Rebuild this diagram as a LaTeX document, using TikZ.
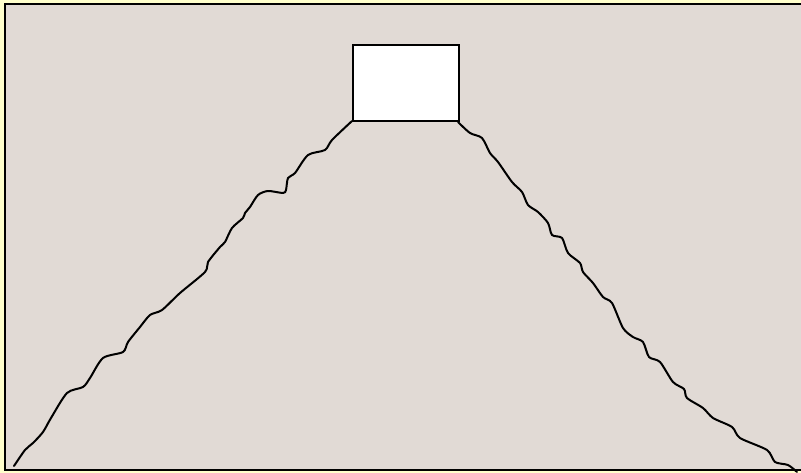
\documentclass[tikz,border=0pt]{standalone}
\begin{document}
\begin{tikzpicture}[x=1pt,y=-1pt,
  ridge/.style={line width=2pt,line join=round,line cap=round,smooth,tension=0.45},
  peak/.style={draw=black,line width=2pt,fill=white,minimum width=106pt,minimum height=76pt,inner sep=0pt,anchor=north west}]
\definecolor{frameyellow}{HTML}{FFFFCC}
\definecolor{bgbeige}{HTML}{E1DAD5}
\useasboundingbox (0,0) rectangle (801,473);
\fill[frameyellow] (0,0) rectangle (801,473);
\filldraw[fill=bgbeige,draw=black,line width=2pt] (5,4) rectangle (808,470);
\node[peak] (box) at (352,44) {};
\draw[ridge] plot coordinates {(14,466) (25,450) (33,443) (43,432) (51,418) (67,393) (83,387) (90,378) (103,358) (123,352) (128,342) (140,327) (150,315) (162,310) (180,293) (205,272) (208,262) (220,247) (225,242) (232,228) (243,218) (245,213) (250,207) (258,195) (268,191) (283,193) (286,190) (288,178) (295,173) (308,155) (325,150) (332,140) (352,121)};
\draw[ridge] plot coordinates {(458,122) (470,133) (482,138) (490,153) (498,162) (512,182) (522,192) (528,205) (538,212) (548,223) (552,235) (562,238) (568,253) (580,263) (583,272) (593,283) (603,297) (612,303) (623,328) (633,337) (643,342) (649,357) (660,362) (673,382) (684,389) (687,398) (703,408) (713,418) (732,427) (740,438) (767,450) (775,462) (788,465) (797,472)};
\end{tikzpicture}
\end{document}
